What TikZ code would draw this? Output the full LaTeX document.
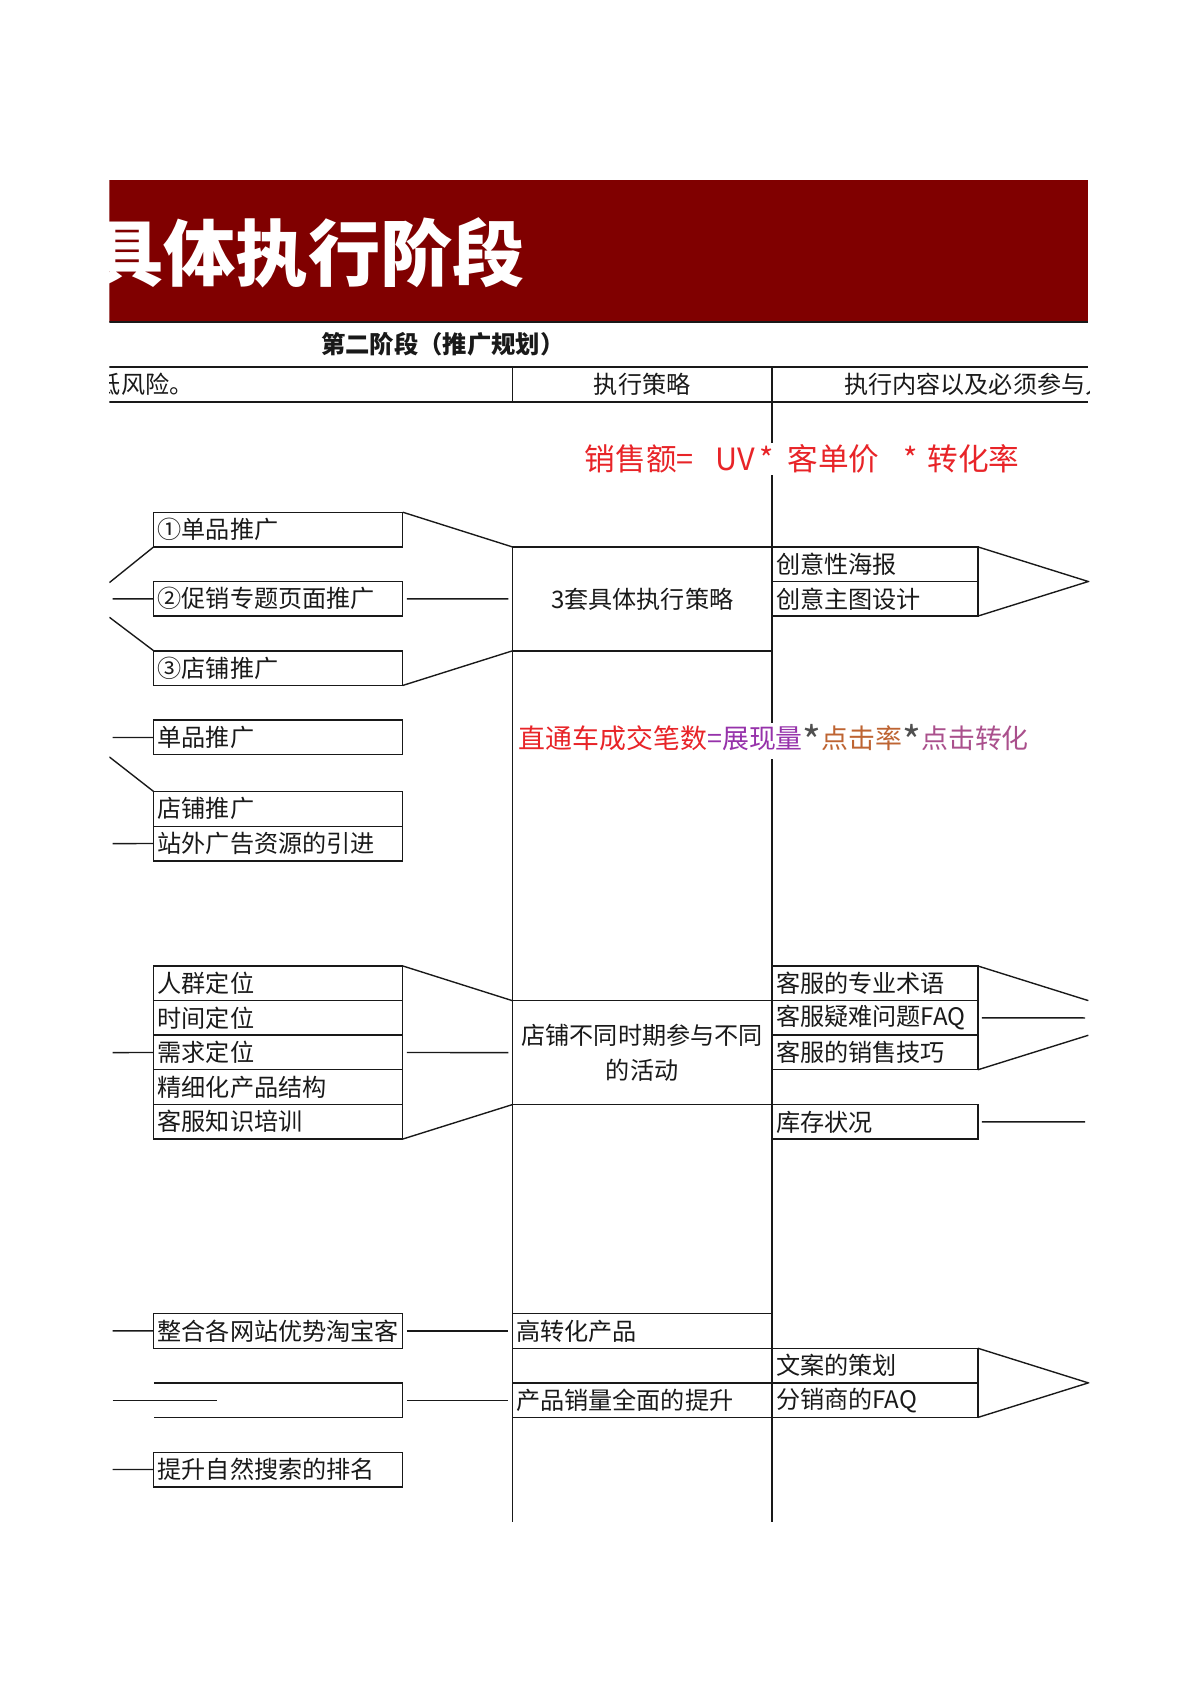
\documentclass[tikz,border=0pt]{standalone}
\usepackage{fontspec}
\setmainfont{Noto Sans CJK SC}
\usetikzlibrary{positioning}

\definecolor{bandred}{RGB}{128,0,0}
\definecolor{fmred}{RGB}{232,36,40}
\definecolor{fmpurple}{RGB}{150,50,170}
\definecolor{fmbrown}{RGB}{190,100,50}
\definecolor{fmmauve}{RGB}{170,80,140}
\definecolor{fmgray}{RGB}{80,80,80}
\definecolor{ink}{RGB}{25,25,25}

\newcommand{\cellfont}{\fontsize{12.2}{14}\selectfont}
\newcommand{\midstar}{\textcolor{fmgray}{\raisebox{-0.6ex}{\scalebox{1.5}{*}}}}

\tikzset{
  cell/.style={draw=ink, line width=0.7pt, outer sep=0pt, inner xsep=2pt, inner ysep=0pt,
    minimum height=17.5pt, text width=121.9pt, align=left, anchor=north west,
    font=\cellfont, text=ink},
  midcell/.style={cell, text width=127.4pt},
  rcell/.style={cell, text width=100pt},
  link/.style={draw=ink, line width=0.7pt},
  rule/.style={draw=ink, line width=1.1pt},
}

\begin{document}
\begin{tikzpicture}[x=0.5475pt, y=-0.5475pt]
\useasboundingbox (0,0) rectangle (1108,1568);
\begin{scope}
\clip (101,150) rectangle (1006,1450);

% title band
\fill[bandred] (101,166) rectangle (1005,297);
\draw[rule, line width=0.9pt] (101,297) -- (1005,297);
\node[anchor=west, text=white, font=\fontsize{36.5}{40}\selectfont\bfseries] (title) at (78,233) {具体执行阶段};
\node[font=\fontsize{12.3}{14}\selectfont\bfseries, text=ink] (stage) at (409,318) {第二阶段（推广规划）};

% header row
\draw[rule] (101,339) -- (1005,339);
\draw[rule] (101,371) -- (1005,371);
\draw[link] (473,339) -- (473,371);
\draw[link] (713,339) -- (713,1405);
\draw[link] (473,505) -- (473,1405);
\node[anchor=west, font=\cellfont, text=ink] (risk) at (83,355) {低风险。};
\node[font=\cellfont, text=ink] (strategy) at (593,355) {执行策略};
\node[anchor=west, font=\cellfont, text=ink] (content) at (773,355) {执行内容以及必须参与人员};

% formulas
\node[anchor=west, fill=white, inner sep=1pt, text=fmred, font=\fontsize{15.5}{17}\selectfont] (sales) at (538,424)
    {销售额=\hspace{11pt}UV\hspace{2pt}*\hspace{7pt}客单价\hspace{12pt}*\hspace{5pt}转化率};
\node[anchor=west, fill=white, inner sep=1pt, font=\fontsize{13.6}{15}\selectfont] (ztc) at (477,684)
    {\textcolor{fmred}{直通车成交笔数}\textcolor{fmpurple}{=展现量}\midstar\textcolor{fmbrown}{点击率}\midstar\textcolor{fmmauve}{点击转化}};

% left column
\node[cell] (p1) at (142,473) {①单品推广};
\node[cell] (p2) at (142,537) {②促销专题页面推广};
\node[cell] (p3) at (142,601) {③店铺推广};
\node[cell] (q1) at (142,665) {单品推广};
\node[cell] (q2) at (142,731) {店铺推广};
\node[cell, below=0pt of q2] (q3) {站外广告资源的引进};
\node[cell] (r1) at (142,892) {人群定位};
\node[cell, below=0pt of r1] (r2) {时间定位};
\node[cell, below=0pt of r2] (r3) {需求定位};
\node[cell, below=0pt of r3] (r4) {精细化产品结构};
\node[cell, below=0pt of r4] (r5) {客服知识培训};
\node[cell] (s1) at (142,1213) {整合各网站优势淘宝客};
\node[cell, draw=none] (s2) at (142,1277) {};
\draw[link] (s2.north west) -- (s2.north east) -- (s2.south east) -- (s2.south west);
\node[cell] (s3) at (142,1341) {提升自然搜索的排名};

% middle column
\node[midcell, minimum height=52.6pt, align=center] (m1) at (473,505) {3套具体执行策略};
\node[midcell, minimum height=52.6pt, align=center, font=\fontsize{12.2}{18}\selectfont] (m2) at (473,924)
    {店铺不同时期参与不同\\的活动};
\node[midcell] (m3) at (473,1213) {高转化产品};
\node[midcell] (m4) at (473,1277) {产品销量全面的提升};

% right column
\node[rcell] (c1) at (713,505) {创意性海报};
\node[rcell, below=0pt of c1] (c2) {创意主图设计};
\node[rcell] (k1) at (713,892) {客服的专业术语};
\node[rcell, below=0pt of k1] (k2) {客服疑难问题FAQ};
\node[rcell, below=0pt of k2] (k3) {客服的销售技巧};
\node[rcell] (k4) at (713,1020) {库存状况};
\node[rcell] (w1) at (713,1245) {文案的策划};
\node[rcell, below=0pt of w1] (w2) {分销商的FAQ};

% free ends
\coordinate (pa) at (101,538);
\coordinate (pb) at (104,553);
\coordinate (pc) at (101,570);
\coordinate (qa) at (104,681);
\coordinate (qb) at (101,699);
\coordinate (qc) at (104,779);
\coordinate (ra) at (104,972);
\coordinate (sa) at (104,1229);
\coordinate (sb) at (104,1293);
\coordinate (sc) at (200,1293);
\coordinate (sd) at (104,1357);
\coordinate (ctip) at (1005,537);
\coordinate (ka) at (1005,924);
\coordinate (kb) at (1005,956);
\coordinate (kc) at (1002,940);
\coordinate (kd) at (1002,1036);
\coordinate (wtip) at (1005,1277);

% connectors on the left
\draw[link] (p1.south west) -- (pa);
\draw[link] (pb) -- (p2.west);
\draw[link] (p3.north west) -- (pc);
\draw[link] (qa) -- (q1.west);
\draw[link] (q2.north west) -- (qb);
\draw[link] (qc) -- (q3.west);
\draw[link] (ra) -- (r3.west);
\draw[link] (sa) -- (s1.west);
\draw[link] (sb) -- (sc);
\draw[link] (sd) -- (s3.west);

% connectors into the middle
\draw[link] (p1.north east) -- (m1.north west);
\draw[link, shorten <=2pt, shorten >=2pt] (p2.east) -- (m1.west);
\draw[link] (p3.south east) -- (m1.south west);
\draw[link] (r1.north east) -- (m2.north west);
\draw[link, shorten <=2pt, shorten >=2pt] (r3.east) -- (m2.west);
\draw[link] (r5.south east) -- (m2.south west);
\draw[link, shorten <=2pt, shorten >=2pt] (s1.east) -- (m3.west);
\draw[link, shorten <=2pt, shorten >=2pt] (s2.east) -- (m4.west);

% connectors on the right
\draw[link] (c1.north east) -- (ctip) -- (c2.south east);
\draw[link] (k1.north east) -- (ka);
\draw[link] (k3.south east) -- (kb);
\draw[link, shorten <=2pt] (k2.east) -- (kc);
\draw[link, shorten <=2pt] (k4.east) -- (kd);
\draw[link] (w1.north east) -- (wtip) -- (w2.south east);
\end{scope}
\end{tikzpicture}
\end{document}
